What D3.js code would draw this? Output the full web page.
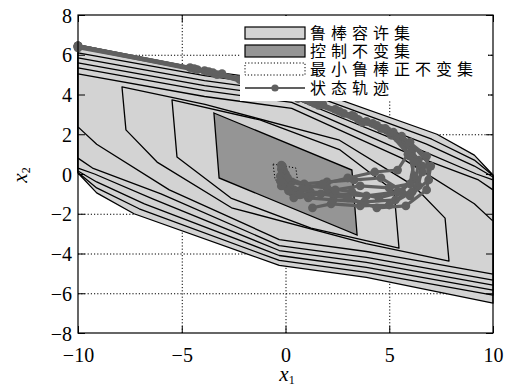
<!DOCTYPE html>
<html>
<head>
<meta charset="utf-8">
<script src="https://cdn.jsdelivr.net/npm/d3@7"></script>
<style>
  body { margin: 0; background: #fff; }
  .grid line { stroke: #000; stroke-dasharray: 1.2,2; }
  .grid path { display: none; }
</style>
</head>
<body>
<div id="chart-element"></div>
<script>
// x/y ticks
const xTicks = [-10, -5, 0, 5, 10]
const yTicks = [-8, -6, -4, -2, 0, 2, 4, 6, 8]

// nested sets, outer to inner, vertex lists [x1, x2]
const setP8 = [[-10, 6.5], [-3.9, 5.2], [0.3, 4.6], [7.3, 2.0], [9.1, 0.95], [10, -0.05],
  [10, -6.5], [3.9, -5.2], [-0.3, -4.6], [-7.3, -2.0], [-9.1, -0.95], [-10, 0.05]]
const setP7 = [[-10, 6.09], [-3.9, 4.95], [0.3, 4.35], [7.05, 1.75], [9.1, 0.7], [10, -0.08],
  [10, -6.09], [3.9, -4.95], [-0.3, -4.35], [-7.05, -1.75], [-9.1, -0.7], [-10, 0.08]]
const setP6 = [[-10, 5.84], [-3.9, 4.7], [0.3, 4.1], [6.8, 1.5], [9.1, 0.4], [10, -0.15],
  [10, -5.84], [3.9, -4.7], [-0.3, -4.1], [-6.8, -1.5], [-9.1, -0.4], [-10, 0.15]]
const setP5 = [[-10, 5.59], [-3.9, 4.45], [0.3, 3.85], [6.4, 1.25], [9.2, 0.0], [10, -0.3],
  [10, -5.59], [3.9, -4.45], [-0.3, -3.85], [-6.4, -1.25], [-9.2, 0.0], [-10, 0.3]]
const setP4 = [[-10, 5.34], [-3.9, 4.2], [0.3, 3.6], [6.0, 1.0], [9.3, -0.3], [10, -0.8],
  [10, -5.34], [3.9, -4.2], [-0.3, -3.6], [-6.0, -1.0], [-9.3, 0.3], [-10, 0.8]]
const setP3 = [[-10, 5.04], [-3.9, 3.9], [0.3, 3.3], [5.6, 0.8], [9.1, -1.5], [10, -2.37],
  [10, -5.04], [3.9, -3.9], [-0.3, -3.3], [-5.6, -0.8], [-9.1, 1.5], [-10, 2.37]]
const setP2 = [[-7.88, 4.38], [-3.88, 3.5], [2.6, 1.7], [6.19, -0.6], [7.69, -2.22],
  [7.88, -4.38], [3.88, -3.5], [-2.6, -1.7], [-6.19, 0.6], [-7.69, 2.22]]
const setP1 = [[-5.47, 3.73], [-1.23, 2.72], [2.63, 1.21], [5.23, -0.86],
  [5.47, -3.73], [1.23, -2.72], [-2.63, -1.21], [-5.23, 0.86]]
const controlInvariant = [[-3.45, 3.07], [3.2, 0.2], [3.45, -3.07], [-3.2, -0.2]]
const minRPI = [[-0.6, 0.5], [0.5, 0.3], [0.6, -0.5], [-0.5, -0.3]]

// state trajectories
const traj1 = [[-10, 6.45], [-4.6, 5.35], [-2.2, 4.75], [0.2, 4.0], [2.4, 3.25], [4.2, 2.55], [5.6, 1.7], [6.4, 0.7],
  [6.3, -0.3], [5.4, -0.9], [3.9, -1.1], [2.4, -1.0], [1.2, -0.9], [0.4, -0.8], [0.0, -0.4], [-0.1, 0.1]]
const traj2 = [[-10, 6.4], [-4.25, 5.25], [-1.8, 4.6], [0.6, 3.8], [2.8, 3.05], [4.6, 2.3], [5.9, 1.45], [6.6, 0.4],
  [6.4, -0.6], [5.3, -1.3], [3.8, -1.4], [2.3, -1.3], [1.1, -1.2], [0.3, -0.9], [-0.1, -0.3], [-0.1, 0.2]]
const traj3 = [[-10, 6.45], [-3.9, 5.2], [-1.4, 4.55], [1.0, 3.75], [3.2, 2.95], [4.9, 2.2], [6.1, 1.2], [6.6, 0.1],
  [6.1, -0.9], [5.0, -1.56], [3.6, -1.6], [2.2, -1.5], [1.3, -1.7]]
const traj4 = [[-10, 6.35], [-3.5, 5.1], [-1.0, 4.4], [1.4, 3.55], [3.5, 2.75], [5.1, 1.95], [6.0, 0.9], [6.2, -0.1],
  [5.6, -0.9], [4.5, -1.2], [3.2, -0.9], [2.0, -0.7], [1.0, -0.6], [0.3, -0.4], [0.0, 0.0], [-0.2, 0.25]]
const traj5 = [[-10, 6.45], [-3.06, 5.05], [-0.6, 4.35], [1.8, 3.5], [3.9, 2.65], [5.4, 1.8], [6.2, 0.6], [6.0, -0.5],
  [5.0, -0.7], [3.6, -0.6], [2.4, -0.8], [1.2, -1.1], [0.4, -1.2], [-0.2, -0.6]]
const traj6 = [[-10, 6.4], [-3.3, 5.0], [-0.9, 4.3], [1.6, 3.45], [3.7, 2.6], [5.6, 1.9], [6.8, 0.9], [6.9, -0.3],
  [6.0, -1.1], [4.6, -0.2], [3.3, -0.3], [2.0, -0.4], [0.9, -0.5], [0.1, -0.2], [-0.15, 0.4]]
const traj7 = [[-10, 6.45], [-4.4, 5.3], [-2.0, 4.7], [0.4, 3.9], [2.6, 3.15], [4.4, 2.45], [5.2, 2.1], [5.9, 1.0],
  [5.4, 0.2], [4.3, 0.1], [3.0, -0.2], [1.8, -0.5], [0.8, -0.75], [0.2, -0.7], [-0.25, -0.1], [-0.2, 0.45]]
const traj8 = [[-10, 6.4], [-3.7, 5.15], [-1.2, 4.5], [1.2, 3.65], [3.3, 2.9], [4.8, 2.3], [6.0, 1.6], [7.0, 0.4],
  [6.8, -0.8], [5.8, -1.6], [4.4, -1.7], [3.0, -1.2], [1.7, -1.0], [0.7, -1.05], [0.15, -0.85], [-0.25, -0.35]]

const legendLabels = ['鲁棒容许集', '控制不变集', '最小鲁棒正不变集', '状态轨迹']

const lightFill = '#d3d3d3'
const darkFill = '#959595'
const trajColor = '#606060'
const serif = '"Liberation Serif"'

const margin = { top: 15, right: 19, bottom: 58, left: 78 }
const width = 512 - margin.left - margin.right
const height = 391 - margin.top - margin.bottom

const x = d3.scaleLinear().domain([-10, 10]).range([0, width])
const y = d3.scaleLinear().domain([-8, 8]).range([height, 0])

const line = d3.line()
  .x(d => x(d[0]))
  .y(d => y(d[1]))

function drawChart() {
  const root = d3.select('#chart-element').append('svg')
    .attr('width', 512)
    .attr('height', 391)

  const svg = root.append('g')
    .attr('transform', 'translate(' + margin.left + ',' + margin.top + ')')

  // dotted gridlines
  svg.append('g')
    .attr('class', 'grid')
    .attr('transform', 'translate(0,' + height + ')')
    .call(d3.axisBottom(x).tickValues(xTicks.slice(1, -1)).tickSize(-height).tickFormat(''))

  svg.append('g')
    .attr('class', 'grid')
    .call(d3.axisLeft(y).tickValues(yTicks.slice(1, -1)).tickSize(-width).tickFormat(''))

  // sets
  const lightSets = [setP8, setP7, setP6, setP5, setP4, setP3, setP2, setP1]
  lightSets.forEach(s => {
    svg.append('path')
      .datum(s)
      .attr('d', d => line(d) + 'Z')
      .attr('fill', lightFill)
      .attr('stroke', '#000')
      .attr('stroke-width', 1.3)
      .attr('stroke-linejoin', 'round')
  })

  svg.append('path')
    .datum(controlInvariant)
    .attr('d', d => line(d) + 'Z')
    .attr('fill', darkFill)
    .attr('stroke', '#000')
    .attr('stroke-width', 1.3)

  svg.append('path')
    .datum(minRPI)
    .attr('d', d => line(d) + 'Z')
    .attr('fill', 'none')
    .attr('stroke', '#000')
    .attr('stroke-dasharray', '1.2,2')

  // trajectories
  const trajs = [traj1, traj2, traj3, traj4, traj5, traj6, traj7, traj8]
  trajs.forEach(t => {
    svg.append('path')
      .datum(t)
      .attr('d', line)
      .attr('fill', 'none')
      .attr('stroke', trajColor)
      .attr('stroke-width', 3.2)
      .attr('stroke-linejoin', 'round')

    svg.append('g').selectAll('circle')
      .data(t)
      .join('circle')
      .attr('cx', d => x(d[0]))
      .attr('cy', d => y(d[1]))
      .attr('r', 4.4)
      .attr('fill', trajColor)
  })

  // axes with inward ticks on all four sides
  svg.append('g')
    .attr('transform', 'translate(0,' + height + ')')
    .call(d3.axisBottom(x).tickValues(xTicks).tickSizeInner(-7).tickSizeOuter(0).tickPadding(15))
  const yAxis = svg.append('g')
    .call(d3.axisLeft(y).tickValues(yTicks).tickSizeInner(-7).tickSizeOuter(0).tickPadding(6))
  svg.append('g')
    .call(d3.axisTop(x).tickValues(xTicks).tickSizeInner(-7).tickSizeOuter(0).tickFormat(''))
  svg.append('g')
    .attr('transform', 'translate(' + width + ',0)')
    .call(d3.axisRight(y).tickValues(yTicks).tickSizeInner(-7).tickSizeOuter(0).tickFormat(''))

  svg.selectAll('.domain').remove()
  svg.selectAll('.tick line').attr('stroke', '#000')
  svg.selectAll('.tick text')
    .style('font-family', serif)
    .style('font-size', '20px')
    .attr('fill', '#000')
  yAxis.selectAll('text').attr('dy', '0.35em')

  svg.append('rect')
    .attr('width', width)
    .attr('height', height)
    .attr('fill', 'none')
    .attr('stroke', '#000')
    .attr('stroke-width', 1.2)

  // axis titles
  root.append('text')
    .attr('transform', 'translate(27,175) rotate(-90)')
    .attr('text-anchor', 'middle')
    .style('font-family', serif)
    .style('font-size', '21px')
    .style('font-style', 'italic')
    .html('x<tspan dy="3" font-size="12" font-style="normal">2</tspan>')

  root.append('text')
    .attr('x', 287)
    .attr('y', 381)
    .attr('text-anchor', 'middle')
    .style('font-family', serif)
    .style('font-size', '21px')
    .style('font-style', 'italic')
    .html('x<tspan dy="3" font-size="12" font-style="normal">1</tspan>')

  // legend
  const lg = svg.append('g').attr('transform', 'translate(' + (240 - margin.left) + ',0)')
  lg.append('rect')
    .attr('x', 0).attr('y', 1)
    .attr('width', 248).attr('height', 85)
    .attr('fill', '#fff')

  const rowY = [18, 36, 54, 73]
  lg.append('rect').attr('x', 5).attr('y', rowY[0] - 6).attr('width', 60).attr('height', 12)
    .attr('fill', lightFill).attr('stroke', '#000').attr('stroke-width', 1.2)
  lg.append('rect').attr('x', 5).attr('y', rowY[1] - 6).attr('width', 60).attr('height', 12)
    .attr('fill', darkFill).attr('stroke', '#000').attr('stroke-width', 1.2)
  lg.append('rect').attr('x', 5).attr('y', rowY[2] - 6).attr('width', 60).attr('height', 12)
    .attr('fill', 'none').attr('stroke', '#000').attr('stroke-dasharray', '1.2,2')
  lg.append('line').attr('x1', 5).attr('x2', 65).attr('y1', rowY[3]).attr('y2', rowY[3])
    .attr('stroke', trajColor).attr('stroke-width', 2.2)
  lg.append('circle').attr('cx', 35).attr('cy', rowY[3]).attr('r', 3.6).attr('fill', trajColor)

  lg.selectAll('text.lbl')
    .data(legendLabels)
    .join('text')
    .attr('class', 'lbl')
    .attr('x', 70)
    .attr('y', (d, i) => rowY[i])
    .attr('dy', '0.36em')
    .style('font-family', '"Noto Sans CJK SC", sans-serif')
    .style('font-size', '16px')
    .style('letter-spacing', '5px')
    .text(d => d)
}

drawChart()
</script>
</body>
</html>
